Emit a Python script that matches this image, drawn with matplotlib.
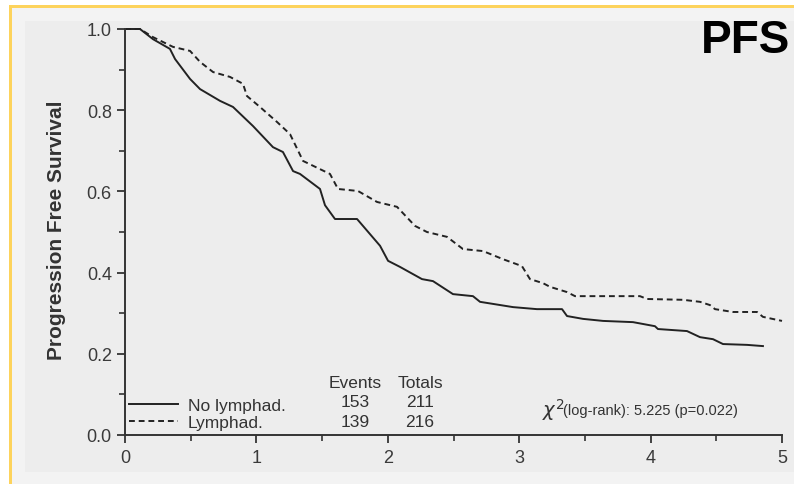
import matplotlib
matplotlib.use("Agg")
import matplotlib.pyplot as plt
from matplotlib.patches import Rectangle
from matplotlib.ticker import MultipleLocator

# Kaplan-Meier curves (years, survival)
t_no = [0.0, 0.114, 0.213, 0.342, 0.381, 0.495, 0.571, 0.723, 0.822, 0.974, 1.126, 1.202,
        1.279, 1.332, 1.484, 1.522, 1.598, 1.766, 1.941, 2.002, 2.093, 2.260, 2.344, 2.496,
        2.648, 2.702, 2.953, 3.135, 3.326, 3.364, 3.486, 3.638, 3.866, 4.033, 4.056, 4.277,
        4.376, 4.475, 4.551, 4.734, 4.855]
s_no = [1.0, 1.0, 0.975, 0.951, 0.926, 0.877, 0.852, 0.823, 0.808, 0.761, 0.709, 0.697,
        0.650, 0.643, 0.606, 0.566, 0.532, 0.532, 0.466, 0.429, 0.414, 0.384, 0.379, 0.347,
        0.342, 0.328, 0.315, 0.310, 0.310, 0.293, 0.286, 0.281, 0.278, 0.268, 0.261, 0.256,
        0.241, 0.236, 0.224, 0.222, 0.219]

t_ly = [0.0, 0.114, 0.213, 0.365, 0.495, 0.571, 0.670, 0.799, 0.898, 0.928, 1.027, 1.157,
        1.256, 1.355, 1.560, 1.621, 1.773, 1.918, 2.070, 2.207, 2.298, 2.451, 2.572, 2.725,
        2.877, 3.021, 3.082, 3.181, 3.234, 3.364, 3.425, 3.919, 3.973, 4.247, 4.376, 4.452,
        4.490, 4.627, 4.810, 4.855, 5.0]
s_ly = [1.0, 1.0, 0.980, 0.956, 0.946, 0.919, 0.894, 0.882, 0.865, 0.835, 0.808, 0.771,
        0.741, 0.675, 0.643, 0.606, 0.601, 0.574, 0.562, 0.515, 0.500, 0.488, 0.458, 0.453,
        0.433, 0.416, 0.384, 0.374, 0.365, 0.352, 0.342, 0.342, 0.335, 0.333, 0.328, 0.320,
        0.310, 0.303, 0.303, 0.291, 0.281]

grupos = ["No lymphad.", "Lymphad."]
eventos = [153, 139]
totais = [211, 216]
teste = "(log-rank): 5.225 (p=0.022)"

W, H = 794, 485
plt.rcParams["font.family"] = ["Liberation Sans", "DejaVu Sans"]

fig = plt.figure(figsize=(W / 100, H / 100), dpi=100, facecolor="white")

# moldura da captura de tela
fig.patches.append(Rectangle((9 / W, 0), 1, 1 - 6 / H, transform=fig.transFigure,
                             facecolor="#fdd35c", edgecolor="none", zorder=-3))
fig.patches.append(Rectangle((12 / W, 0), 1, 1 - 9 / H, transform=fig.transFigure,
                             facecolor="#f3f3f3", edgecolor="none", zorder=-2))
fig.patches.append(Rectangle((25 / W, 12 / H), 1, 1 - 34 / H, transform=fig.transFigure,
                             facecolor="#ededed", edgecolor="none", zorder=-1))

ax = fig.add_axes([125 / W, 1 - 436 / H, 657 / W, 406 / H])
ax.set_facecolor("none")

ax.plot(t_no, s_no, color="#222222", lw=1.4, ls="-", label=grupos[0], clip_on=False)
ax.plot(t_ly, s_ly, color="#222222", lw=1.4, ls=(0, (3, 2)), label=grupos[1], clip_on=False)

ax.set_xlim(0, 5)
ax.set_ylim(0, 1.0)
for s in ["top", "right"]:
    ax.spines[s].set_visible(False)
for s in ["left", "bottom"]:
    ax.spines[s].set_linewidth(1.4)
    ax.spines[s].set_color("#333333")

ax.xaxis.set_major_locator(MultipleLocator(1))
ax.xaxis.set_minor_locator(MultipleLocator(0.5))
ax.yaxis.set_major_locator(MultipleLocator(0.2))
ax.yaxis.set_minor_locator(MultipleLocator(0.1))
ax.yaxis.set_major_formatter(plt.FormatStrFormatter("%.1f"))
ax.tick_params(which="major", length=6, width=1.3, color="#333333", labelsize=13,
               labelcolor="#3a3a3a", direction="out")
ax.tick_params(which="minor", length=4, width=1.2, color="#333333", direction="out")
ax.tick_params(axis="x", pad=4)

fig.text(56 / W, 1 - 230 / H, "Progression Free Survival", rotation=90, ha="center",
         va="center", fontsize=15, fontweight="bold", color="#333333")
fig.text(790 / W, 1 - 19 / H, "PFS", ha="right", va="top", fontsize=33,
         fontweight="bold", color="black")

# legenda com colunas de eventos e totais
leg = ax.legend(loc="lower left", bbox_to_anchor=(0.006, 0.012), frameon=False,
                fontsize=12.5, handlelength=2.8, handletextpad=0.6, labelspacing=0.12,
                borderpad=0, borderaxespad=0)
for txt in leg.get_texts():
    txt.set_color("#333333")

ax.text(1.75, 0.130, "Events", ha="center", va="center", fontsize=12.5, color="#333333")
ax.text(2.245, 0.130, "Totals", ha="center", va="center", fontsize=12.5, color="#333333")
for i, y in enumerate([0.083, 0.034]):
    ax.text(1.75, y, str(eventos[i]), ha="center", va="center", fontsize=12.5, color="#333333")
    ax.text(2.245, y, str(totais[i]), ha="center", va="center", fontsize=12.5, color="#333333")

ax.text(3.17, 0.064, r"$\chi^2$", ha="left", va="center", fontsize=14, color="#333333")
ax.text(3.33, 0.062, teste, ha="left", va="center", fontsize=10.5, color="#333333")

fig.savefig("out.png", dpi=100, facecolor=fig.get_facecolor())
